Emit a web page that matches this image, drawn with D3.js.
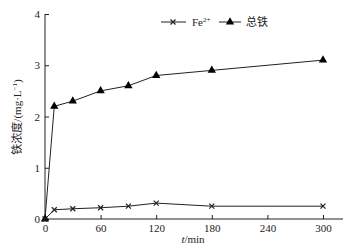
<!DOCTYPE html>
<html><head><meta charset="utf-8">
<script src="https://cdn.jsdelivr.net/npm/d3@7"></script>
<style>body{margin:0;background:#fff}svg{display:block}</style>
</head><body><svg id="c" width="356" height="250"></svg>
<script>
const times = [0, 10, 30, 60, 90, 120, 180, 300];
const fe2 = [0, 0.18, 0.2, 0.22, 0.25, 0.31, 0.25, 0.25];
const totalFe = [0, 2.2, 2.3, 2.5, 2.6, 2.8, 2.9, 3.1];
const xTicks = [0, 60, 120, 180, 240, 300];
const yTicks = [0, 1, 2, 3, 4];

const svg = d3.select("#c");
const x = d3.scaleLinear().domain([0, 300]).range([45, 323]);
const y = d3.scaleLinear().domain([0, 4]).range([219, 14]);
const serif = "'Liberation Serif','Times New Roman',serif";
const col = "#222";

svg.append("line").attr("x1", x(0)).attr("x2", 343).attr("y1", y(0)).attr("y2", y(0)).attr("stroke", col).attr("stroke-width", 1);
svg.append("line").attr("x1", x(0)).attr("x2", x(0)).attr("y1", y(0)).attr("y2", y(4)).attr("stroke", col).attr("stroke-width", 1);

const xa = svg.append("g").attr("transform", `translate(0,${y(0)})`)
  .call(d3.axisBottom(x).tickValues(xTicks).tickSize(-4).tickPadding(5).tickFormat(d3.format("d")));
xa.select(".domain").remove();
const ya = svg.append("g").attr("transform", `translate(${x(0)},0)`)
  .call(d3.axisLeft(y).tickValues(yTicks).tickSize(-4).tickPadding(5).tickFormat(d3.format("d")));
ya.select(".domain").remove();
svg.selectAll(".tick line").attr("stroke", col);
svg.selectAll(".tick text").attr("font-family", serif).attr("font-size", 11).attr("fill", col);

const line = d3.line().x(d => x(d[0])).y(d => y(d[1]));
const dFe2 = times.map((t, i) => [t, fe2[i]]);
const dTot = times.map((t, i) => [t, totalFe[i]]);

svg.append("path").attr("d", line(dTot)).attr("fill", "none").attr("stroke", col).attr("stroke-width", 1);
svg.append("path").attr("d", line(dFe2)).attr("fill", "none").attr("stroke", col).attr("stroke-width", 1);

const tri = d3.symbol().type(d3.symbolTriangle).size(30);
function cross(g, cx, cy) {
  const s = 2.5;
  g.append("path").attr("d", `M${cx-s},${cy-s}L${cx+s},${cy+s}M${cx-s},${cy+s}L${cx+s},${cy-s}`)
    .attr("stroke", col).attr("stroke-width", 1.2).attr("fill", "none");
}
svg.append("g").selectAll("path").data(dTot).join("path")
  .attr("d", tri).attr("transform", d => `translate(${x(d[0])},${y(d[1])})`).attr("fill", "#000");
dFe2.forEach(d => cross(svg, x(d[0]), y(d[1])));

// legend
const ly = 22;
svg.append("line").attr("x1", 161).attr("x2", 186).attr("y1", ly).attr("y2", ly).attr("stroke", col);
cross(svg, 173, ly);
const t1 = svg.append("text").attr("x", 192).attr("y", ly + 4).attr("font-family", serif).attr("font-size", 11).attr("fill", col).text("Fe");
t1.append("tspan").attr("font-size", 7).attr("dy", -4).text("2+");
svg.append("line").attr("x1", 219).attr("x2", 241).attr("y1", ly).attr("y2", ly).attr("stroke", col);
svg.append("path").attr("d", tri).attr("transform", `translate(230,${ly})`).attr("fill", "#000");
svg.append("text").attr("x", 246).attr("y", ly + 4).attr("font-family", "'Noto Sans CJK SC',sans-serif").attr("font-size", 11).attr("fill", col).text("总铁");

// axis titles
const xt = svg.append("text").attr("x", 193).attr("y", 243).attr("text-anchor", "middle").attr("font-family", serif).attr("font-size", 11).attr("fill", col);
xt.append("tspan").attr("font-style", "italic").text("t");
xt.append("tspan").text("/min");

const yt = svg.append("text").attr("transform", `translate(21,${117}) rotate(-90)`).attr("text-anchor", "middle").attr("font-size", 11).attr("fill", col);
yt.append("tspan").attr("font-family", "'Noto Sans CJK SC',sans-serif").text("铁浓度");
yt.append("tspan").attr("font-family", serif).text("/(mg·L");
yt.append("tspan").attr("font-family", serif).attr("font-size", 7).attr("dy", -4).text("−1");
yt.append("tspan").attr("font-family", serif).attr("dy", 4).text(")");
</script></body></html>
